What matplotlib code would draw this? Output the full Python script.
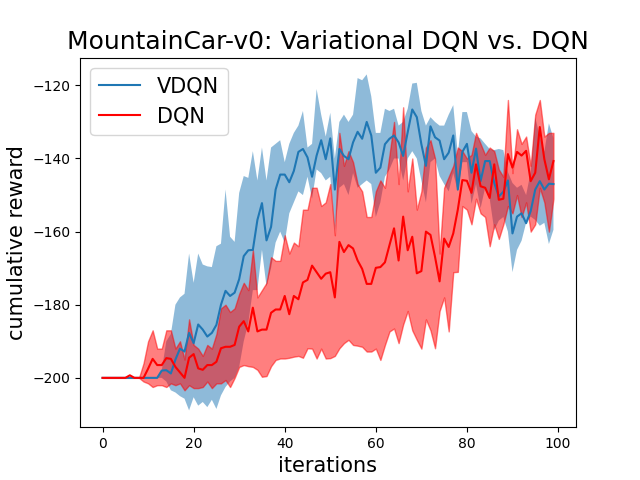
import numpy as np
import matplotlib
matplotlib.use('Agg')
import matplotlib.pyplot as plt

iterations = np.arange(100)

# VDQN: mean and band edges
vdqn_mean = [-200] * 13 + [
    -198, -197.9, -198.8, -195, -192, -192.8, -187.7, -190.5, -185.4, -186.8,
    -188.7, -187.7, -185.5, -180, -176.2, -177.6, -176.7, -173, -166.7, -165.1,
    -165, -156.8, -152.2, -162.4, -158.7, -148.5, -144.4, -144.4, -146.5, -143.4,
    -138.2, -137.4, -139.7, -145, -139.2, -135, -140.2, -134.5, -148.5, -137.4,
    -139.3, -140.2, -135.6, -132.7, -134.6, -130, -133.7, -143.9, -142.5, -136.1,
    -134.6, -133.7, -135.6, -139.3, -132.8, -126.6, -128.7, -136.1, -142, -131.2,
    -134.2, -135.1, -140.2, -138.4, -133.7, -148.5, -138.2, -136, -143.9, -137.3,
    -146.2, -140.7, -140.7, -146.7, -150.4, -149.1, -146, -160.5, -155.9, -155,
    -157.7, -154.4, -148.5, -146.2, -148.5, -146.9, -147]
vdqn_upper = [-200] * 13 + [
    -198, -190, -188, -180, -178, -177, -166, -174, -166, -169,
    -169.5, -169.7, -164, -163.3, -148.5, -161.4, -162.8, -149.4, -144.8, -145.3,
    -138, -146, -137, -146, -137, -136, -135, -141, -136, -133,
    -131, -127, -137, -136, -121, -128, -134, -127.5, -140, -130,
    -128, -130, -128, -118, -118.6, -117, -123, -133, -133, -126.4,
    -127, -126.4, -131, -130, -126.4, -119.5, -119.3, -127, -131, -128.7,
    -130, -131, -131, -128, -125.4, -138.8, -127.3, -127.3, -132.5, -134,
    -134.5, -136, -137.4, -137.7, -137.4, -137.7, -143.7, -146.7, -148, -147.2,
    -150, -143.7, -128.7, -134, -138.1, -130.4, -134.4]
vdqn_lower = [-200] * 13 + [
    -200, -201, -203.4, -204, -205, -205.7, -208.9, -205.3, -207.6, -206.6,
    -208, -206, -208.5, -204.8, -202.5, -201, -200, -197, -190, -185,
    -176, -176, -165, -175, -170, -163, -160, -163, -155, -152,
    -149, -150, -145, -151, -143, -144, -146, -145, -160, -148,
    -147, -150, -144, -148, -147, -146, -147, -156, -152, -145,
    -143, -140, -140, -146, -140, -138, -140, -146, -152, -141,
    -140, -144.8, -147, -149, -144, -149, -141, -141, -152.4, -147,
    -153.6, -148, -151, -159.6, -157, -156, -160, -171.1, -165, -162.5,
    -157.6, -155.9, -156.8, -158.4, -157.6, -163.4, -159.5]

# DQN
dqn_mean = [-200] * 6 + [-199.3, -200, -200, -200] + [
    -197.5, -194.8, -196.5, -196.5, -194.6, -194.8, -197, -198.5, -200, -194.5,
    -193.5, -197.4, -197.8, -196.5, -196.5, -195.6, -191.9, -191.5, -191.5, -191,
    -186, -184.5, -187.3, -180.8, -187.3, -186.8, -186.8, -182.2, -181.3, -181.3,
    -177.6, -182.6, -177.6, -178.5, -173.9, -173.2, -169.3, -171.1, -172.9, -171.5,
    -171.1, -178, -162.8, -165.6, -163.7, -164.6, -167.9, -170.2, -174.3, -174.3,
    -169.9, -169.7, -168.4, -163.7, -159.1, -167.9, -155.9, -165.1, -161.4, -171.4,
    -170.8, -160, -160.9, -166.9, -173.6, -161.9, -164.2, -160.5, -154, -145.9,
    -146.1, -149.4, -141.6, -147.6, -148, -150.8, -141.6, -151.3, -151, -138.8,
    -142.5, -138.2, -139.2, -137.9, -146.2, -143.9, -131.4, -140.2, -145.7, -140.7]
dqn_upper = [-200] * 9 + [
    -196, -190, -187, -192, -192, -187, -187, -192, -190, -195, -184,
    -191, -192, -194, -191, -192, -188, -181, -180, -182, -181,
    -177, -174, -176, -165, -178, -176, -174, -167, -168, -168,
    -161, -166, -163, -164, -154, -154, -148, -148, -153, -152,
    -147, -161, -133, -142, -138, -141, -147, -149, -156, -156,
    -149, -146, -148, -139, -130, -147, -126, -149, -140, -154,
    -149, -137, -135, -140, -166, -148, -145, -142, -137, -138,
    -140, -139, -133, -136, -139, -137, -138, -143, -145, -124,
    -144, -132, -136, -134, -142, -128, -124, -134, -133, -133]
dqn_lower = [-200] * 9 + [
    -201, -201.5, -202.5, -202, -202, -202.5, -201.5, -202, -201.5, -203.4, -202,
    -202.8, -202.8, -202.5, -201, -202.8, -201.5, -201.5, -200.6, -202.5, -200,
    -197, -196.5, -196.8, -197, -197.8, -199.7, -199.5, -196.8, -195.1, -194.7,
    -194.7, -194.5, -194.2, -194, -194.5, -191.9, -192, -194.7, -192, -194.7,
    -194.6, -194, -191.9, -190.5, -189.6, -191, -191.2, -191.5, -192.8, -192.8,
    -192, -195.1, -191, -187.3, -186.5, -190.5, -185.4, -181.7, -187, -189.6,
    -192, -184, -187, -191.9, -181.7, -178, -187.3, -171.1, -171, -153,
    -154, -158, -151, -155, -156, -164, -158, -162, -158, -153,
    -155, -150, -156, -152, -160, -158, -148, -152, -160, -151]

fig, ax = plt.subplots(figsize=(6.4, 4.8), dpi=100)

ax.plot(iterations, vdqn_mean, color='C0', label='VDQN')
ax.fill_between(iterations, vdqn_lower, vdqn_upper, facecolor='C0', alpha=0.5, linewidth=0)
ax.plot(iterations, dqn_mean, color='r', label='DQN')
ax.fill_between(iterations, dqn_lower, dqn_upper, color='r', alpha=0.5)

ax.set_title('MountainCar-v0: Variational DQN vs. DQN', fontsize=18)
ax.set_xlabel('iterations', fontsize=15)
ax.set_ylabel('cumulative reward', fontsize=15)
ax.legend(loc='upper left', fontsize=15)

plt.savefig('out.png', dpi=100)
